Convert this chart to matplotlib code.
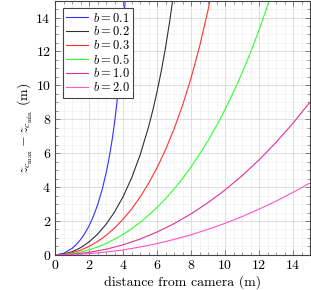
import matplotlib
matplotlib.use("Agg")
import matplotlib.pyplot as plt
from matplotlib.ticker import MultipleLocator

plt.rcParams['font.family'] = 'serif'
plt.rcParams['font.serif'] = ['cmr10']
plt.rcParams['mathtext.fontset'] = 'cm'
plt.rcParams['axes.formatter.use_mathtext'] = True
plt.rcParams['axes.unicode_minus'] = False

# values (distance in m, error in m)
z_01 = [0, 0.5, 1, 1.25, 1.5, 1.75, 2, 2.25, 2.5, 2.75, 3, 3.125, 3.25, 3.375,
        3.5, 3.625, 3.75, 3.875, 4, 4.125, 4.25]
e_01 = [0, 0.093, 0.383, 0.611, 0.902, 1.266, 1.715, 2.266, 2.942, 3.775,
        4.812, 5.427, 6.12, 6.907, 7.805, 8.835, 10.03, 11.43, 13.09, 15.08, 17.5]

z_02 = [0, 0.5, 1, 1.5, 2, 2.5, 3, 3.5, 4, 4.5, 5, 5.5, 5.75, 6, 6.25, 6.5,
        6.75, 7]
e_02 = [0, 0.046, 0.187, 0.424, 0.766, 1.222, 1.804, 2.532, 3.43, 4.531,
        5.883, 7.551, 8.53, 9.625, 10.85, 12.24, 13.82, 15.61]

z_03 = [0, 0.5, 1, 1.5, 2, 2.5, 3, 3.5, 4, 4.5, 5, 5.5, 6, 6.5, 7, 7.5,
        8, 8.5, 9, 9.5]
e_03 = [0, 0.031, 0.124, 0.28, 0.501, 0.79, 1.149, 1.585, 2.101, 2.706,
        3.407, 4.216, 5.144, 6.208, 7.427, 8.825, 10.43, 12.29, 14.44, 16.95]

z_05 = [0, 0.5, 1, 1.5, 2, 2.5, 3, 3.5, 4, 4.5, 5, 5.5, 6, 6.5, 7, 7.5,
        8, 8.5, 9, 9.5, 10, 10.5, 11, 11.5, 12, 12.5, 13]
e_05 = [0, 0.019, 0.074, 0.167, 0.298, 0.467, 0.674, 0.922, 1.211, 1.541,
        1.916, 2.335, 2.802, 3.318, 3.887, 4.51, 5.191, 5.933, 6.742, 7.62,
        8.574, 9.609, 10.73, 11.95, 13.27, 14.71, 16.27]

z_10 = [0, 1, 2, 3, 4, 5, 6, 7, 8, 9, 10, 11, 12, 13, 14, 15]
e_10 = [0, 0.037, 0.148, 0.334, 0.595, 0.933, 1.349, 1.844, 2.421, 3.083,
        3.831, 4.67, 5.604, 6.637, 7.773, 9.02]

z_20 = [0, 1, 2, 3, 4, 5, 6, 7, 8, 9, 10, 11, 12, 13, 14, 15]
e_20 = [0, 0.019, 0.074, 0.167, 0.296, 0.464, 0.668, 0.91, 1.191, 1.509,
        1.866, 2.262, 2.697, 3.172, 3.688, 4.244]

labels = ['$b = 0.1$', '$b = 0.2$', '$b = 0.3$', '$b = 0.5$', '$b = 1.0$', '$b = 2.0$']
colors = ['#3030ff', '#303030', '#ff3030', '#30ff30', '#e0309a', '#ff55c8']

fig = plt.figure(figsize=(3.11, 2.90), dpi=100)
ax = fig.add_axes([0.177, 0.121, 0.820, 0.877])

series = [(z_01, e_01), (z_02, e_02), (z_03, e_03), (z_05, e_05), (z_10, e_10), (z_20, e_20)]
for (z, e), lab, col in zip(series, labels, colors):
    ax.plot(z, e, color=col, lw=0.8, label=lab)

ax.set_xlim(0, 15)
ax.set_ylim(0, 15)
ax.xaxis.set_major_locator(MultipleLocator(2))
ax.yaxis.set_major_locator(MultipleLocator(2))
ax.xaxis.set_minor_locator(MultipleLocator(0.5))
ax.yaxis.set_minor_locator(MultipleLocator(0.5))
ax.grid(which='major', color='#d8d8d8', lw=0.6)
ax.grid(which='minor', color='#f0f0f0', lw=0.5)
ax.set_axisbelow(True)
ax.tick_params(which='both', direction='in', top=True, right=True, color='#555555',
               labelsize=10, pad=3)
ax.tick_params(which='major', length=3.5, width=0.5)
ax.tick_params(which='minor', length=2, width=0.4)
for s in ax.spines.values():
    s.set_color('#444444')
    s.set_linewidth(0.8)

ax.set_xlabel('distance from camera (m)', fontsize=10, labelpad=2)
ax.set_ylabel(r'$z_{c_{\max}} - z_{c_{\min}}$ (m)', fontsize=10, labelpad=0)

leg = ax.legend(loc='upper left', fontsize=9, fancybox=False, framealpha=1,
                edgecolor='#444444', handlelength=1.7, handletextpad=0.4,
                borderpad=0.3, labelspacing=0.05, borderaxespad=0.6)
leg.get_frame().set_linewidth(0.8)

fig.savefig('out.png', dpi=100)
